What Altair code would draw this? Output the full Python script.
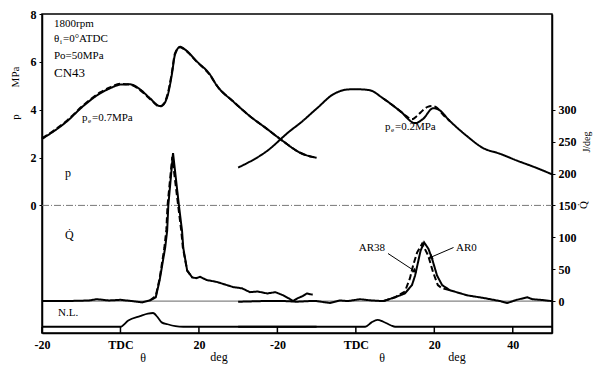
import altair as alt
import pandas as pd

# ---- crank angle axis (second cycle drawn 60 deg to the right) ----
xtick_vals = [-20, 0, 20, 40, 60, 80, 100]
xtick_labels = ["-20", "TDC", "20", "-20", "TDC", "20", "40"]
p_ticks = [0, 2, 4, 6, 8]
q_ticks = [0, 50, 100, 150, 200, 250, 300]

# ---- cylinder pressure p (MPa) ----
p1_x = [-20, -13.6, -9.5, -5.2, -2.7, 0, 2.4, 5.0, 7.5, 10.1, 10.8, 12.1, 13.1, 13.9, 15.2, 16.5, 19.5,
        22.8, 24.6, 28.7, 33.0, 37.4, 41.4, 45.8, 50.0]
p1_solid = [2.78, 3.52, 4.15, 4.68, 4.89, 5.05, 5.06, 4.85, 4.48, 4.15, 4.19, 4.64, 5.47, 6.30, 6.63, 6.51,
            6.01, 5.47, 5.00, 4.35, 3.73, 3.19, 2.69, 2.20, 1.99]
p1_dashed = [2.80, 3.55, 4.18, 4.72, 4.93, 5.08, 5.05, 4.82, 4.45, 4.13, 4.20, 4.70, 5.55, 6.35, 6.61, 6.49,
             6.00, 5.45, 5.00, 4.35, 3.73, 3.19, 2.69, 2.20, 1.99]

p2_x = [30.0, 37.4, 43.2, 45.8, 50.1, 54.2, 58.5, 61.1, 63.6, 66.9, 71.3, 75.1, 77.1, 79.7, 80.9, 84.0,
        88.3, 92.4, 96.7, 101.1, 105.2, 110.0]
p2_solid = [1.58, 2.28, 3.11, 3.44, 4.06, 4.64, 4.85, 4.85, 4.81, 4.48, 3.94, 3.44, 3.61, 4.06, 4.02, 3.52,
            2.90, 2.40, 2.16, 1.87, 1.62, 1.30]
p2d_x = [66.9, 71.3, 72.8, 74.3, 75.6, 77.1, 78.3, 79.4, 80.7, 82.2, 84.0]
p2_dashed = [4.48, 3.94, 3.74, 3.60, 3.74, 3.98, 4.12, 4.15, 4.08, 3.80, 3.52]

# ---- heat release rate Q (J/deg) ----
q1_x = [-20, -14, -8, -6, -3, 0, 3, 5.5, 7.5, 9.0, 10.0, 11.4, 11.9, 12.2, 13.4, 14.9, 15.7, 16.0, 17.0,
        18.3, 19.3, 20.3, 22.0, 24.6, 28.7, 31.0, 33.0, 35.0, 37.4, 39.5, 41.5, 43.0, 44.0, 45.0, 46.5,
        47.5, 49.0]
q1_solid = [0, 0, 1, 3, 1, 2, 0, -2, 1, 6, 33, 84, 110, 150, 232, 150, 110, 84, 48, 37, 36, 38, 33, 30,
            22, 20, 14, 15, 12, 14, 9, 4, 0, 4, 8, 12, 10]
q1d_x = [7.5, 9.0, 10.0, 11.2, 11.7, 12.0, 13.2, 14.7, 15.5, 15.9, 17.0, 18.3]
q1_dashed = [1, 8, 36, 84, 112, 150, 226, 150, 110, 84, 48, 37]

q2_x = [30, 36, 42, 45, 48, 50, 53.4, 56, 58, 61, 64, 67, 70, 72.5, 74.3, 75.1, 76.5, 77.4, 78.5, 79.4,
        80.7, 82, 84, 88.4, 92.5, 96.8, 98.6, 101, 103.7, 105, 107, 110]
q2_solid = [-1, 0, 0, -1, 0, 0, -3, 1, 0, 3, 1, 0, 6, 12, 25, 40, 79, 92, 82, 67, 40, 25, 17, 9, 5, 0,
            -3, 2, 6, 3, 2, 0]
q2d_x = [67, 70, 72.5, 73.8, 74.6, 75.6, 76.9, 78.4, 79.7, 80.9, 82, 84]
q2_dashed = [0, 6, 15, 36, 56, 76, 90, 72, 45, 25, 20, 17]

# ---- needle lift (arbitrary units) ----
nl1_x = [-20, -10, 0, 2, 5, 7, 8.3, 9.5, 10.5, 12, 14, 16, 30, 50]
nl1 = [0, 0, 0, 0.10, 0.17, 0.21, 0.22, 0.15, 0.07, 0.04, 0.01, 0, 0, 0]
nl2_x = [30, 50, 62.4, 64, 65.5, 67, 69, 70, 90, 110]
nl2 = [0, 0, 0, 0.07, 0.11, 0.08, 0.02, 0, 0, 0]

# ---- annotation arrows (data coords: crank angle, Q) ----
arrow_tail_x = [68.2, 84.9]
arrow_tail_q = [74.6, 84.0]
arrow_head_x = [75.1, 79.0]
arrow_head_q = [46.7, 68.4]

FONT = "Liberation Serif"


def series(xs, ys, name, style, col):
    return pd.DataFrame({"x": xs, col: ys, "series": name, "style": style})


p_df = pd.concat([
    series(p1_x, p1_solid, "p1s", "solid", "p"),
    series(p1_x, p1_dashed, "p1d", "dashed", "p"),
    series(p2_x, p2_solid, "p2s", "solid", "p"),
    series(p2d_x, p2_dashed, "p2d", "dashed", "p"),
])
q_df = pd.concat([
    series(q1_x, q1_solid, "q1s", "solid", "q"),
    series(q1d_x, q1_dashed, "q1d", "dashed", "q"),
    series(q2_x, q2_solid, "q2s", "solid", "q"),
    series(q2d_x, q2_dashed, "q2d", "dashed", "q"),
])
nl_df = pd.concat([
    series(nl1_x, nl1, "n1", "solid", "nl"),
    series(nl2_x, nl2, "n2", "solid", "nl"),
])
arrow_df = pd.DataFrame({"x": arrow_tail_x, "q": arrow_tail_q,
                         "x2": arrow_head_x, "q2": arrow_head_q})
tick_df = pd.DataFrame({"x": xtick_vals})

label_expr = " : ".join(f"datum.value == {v} ? '{l}'" for v, l in zip(xtick_vals, xtick_labels)) + " : ''"

W, H = 510, 319

x_scale = alt.Scale(domain=[-20, 110], nice=False, zero=False)
x_axis = alt.Axis(values=xtick_vals, labelExpr=label_expr, title=None, tickSize=0, grid=False,
                  labelFont=FONT, labelFontSize=12, labelFontWeight="bold", labelColor="black",
                  labelPadding=6, domainColor="black", domainWidth=1.5, labelFlush=False)
X = alt.X("x:Q", scale=x_scale, axis=x_axis)

p_scale = alt.Scale(domain=[-16 / 3, 8], nice=False, zero=False)
q_scale = alt.Scale(domain=[-50, 450], nice=False, zero=False)
nl_scale = alt.Scale(domain=[-0.1, 5.0], nice=False, zero=False)

dash = alt.StrokeDash("style:N", scale=alt.Scale(domain=["solid", "dashed"], range=[[1, 0], [6, 3]]),
                      legend=None)

p_lines = alt.Chart(p_df).mark_line(color="black", strokeWidth=2, interpolate="monotone").encode(
    x=X,
    y=alt.Y("p:Q", scale=p_scale,
            axis=alt.Axis(orient="left", values=p_ticks, title=None, grid=False, tickSize=3,
                          tickColor="black", labelFont=FONT, labelFontSize=12, labelFontWeight="bold",
                          labelColor="black", labelPadding=3, domainColor="black", domainWidth=1.5)),
    strokeDash=dash, detail="series:N")

q_lines = alt.Chart(q_df).mark_line(color="black", strokeWidth=2).encode(
    x=X,
    y=alt.Y("q:Q", scale=q_scale,
            axis=alt.Axis(orient="right", values=q_ticks, title=None, grid=False, tickSize=3,
                          tickColor="black", labelFont=FONT, labelFontSize=12, labelFontWeight="bold",
                          labelColor="black", labelPadding=3, domainColor="black", domainWidth=1.5)),
    strokeDash=dash, detail="series:N")

nl_lines = alt.Chart(nl_df).mark_line(color="black", strokeWidth=1.8, interpolate="monotone").encode(
    x=X, y=alt.Y("nl:Q", scale=nl_scale, axis=None), detail="series:N")

dummy = pd.DataFrame({"d": [0]})

p_zero = alt.Chart(dummy).mark_rule(color="#777777", strokeWidth=1, strokeDash=[7, 2, 1, 2]).encode(
    x=alt.value(0), x2=alt.value(W), y=alt.Y("d:Q", scale=p_scale, axis=None))
q_zero = alt.Chart(dummy).mark_rule(color="#666666", strokeWidth=1).encode(
    x=alt.value(0), x2=alt.value(W), y=alt.Y("d:Q", scale=q_scale, axis=None))

x_ticks = alt.Chart(tick_df).mark_rule(color="black", strokeWidth=1.5).encode(
    x=X, y=alt.value(H - 6), y2=alt.value(H))

arrows = alt.Chart(arrow_df).mark_rule(color="black", strokeWidth=1).encode(
    x=X, x2="x2:Q", y=alt.Y("q:Q", scale=q_scale, axis=None), y2="q2:Q")
heads = [
    alt.Chart(arrow_df.iloc[[i]]).mark_point(shape="triangle-right", filled=True, color="black",
                                              size=28, opacity=1, angle=a).encode(
        x=alt.X("x2:Q", scale=x_scale, axis=x_axis), y=alt.Y("q2:Q", scale=q_scale, axis=None))
    for i, a in [(0, 34), (1, 156)]
]


def txt(s, x, y, size=11, angle=0, align="left", weight="normal", baseline="middle"):
    return alt.Chart(dummy).mark_text(text=s, align=align, baseline=baseline, fontSize=size, font=FONT,
                                      angle=angle, color="black", fontWeight=weight).encode(
        x=alt.value(x), y=alt.value(y))


# positions are in plot pixels (plot origin at page x=42, y=14)
texts = [
    txt("1800rpm", 12, 10),
    txt("\u03b8", 12, 25), txt("i", 18, 28, size=7), txt("=0\u00b0ATDC", 21, 25),
    txt("Po=50MPa", 12, 42),
    txt("CN43", 12, 59, size=13),
    txt("p", 40, 104), txt("e", 46, 107, size=7), txt("=0.7MPa", 50, 104),
    txt("p", 343, 113), txt("e", 349, 116, size=7), txt("=0.2MPa", 353, 113),
    txt("p", 23, 159, size=12),
    txt("Q\u0307", 23, 221, size=12),
    txt("N.L.", 16, 299),
    txt("AR38", 343, 234, align="right"),
    txt("AR0", 414, 234),
    # axis titles
    txt("p", -26, 103, size=11, angle=270, align="center"),
    txt("MPa", -26, 63, size=11, angle=270, align="center"),
    txt("J/deg", 545, 128, size=10, angle=270, align="center"),
    txt("Q\u0307", 542, 191, size=11, angle=270, align="center"),
    txt("\u03b8", 101, 348, size=12, align="center", baseline="alphabetic"),
    txt("deg", 177, 347, size=12, align="center", baseline="alphabetic"),
    txt("\u03b8", 340, 348, size=12, align="center", baseline="alphabetic"),
    txt("deg", 415, 347, size=12, align="center", baseline="alphabetic"),
]

chart = alt.layer(
    p_zero, q_zero, x_ticks, nl_lines, q_lines, p_lines, arrows, *heads, *texts
).resolve_scale(y="independent").properties(
    width=W, height=H,
    autosize=alt.AutoSizeParams(type="none"),
    padding={"left": 34, "top": 6, "right": 42, "bottom": 32},
    background="white",
).configure_view(stroke="black", strokeWidth=1.5)

chart.save("out.html", embed_options={"renderer": "svg", "actions": False})
